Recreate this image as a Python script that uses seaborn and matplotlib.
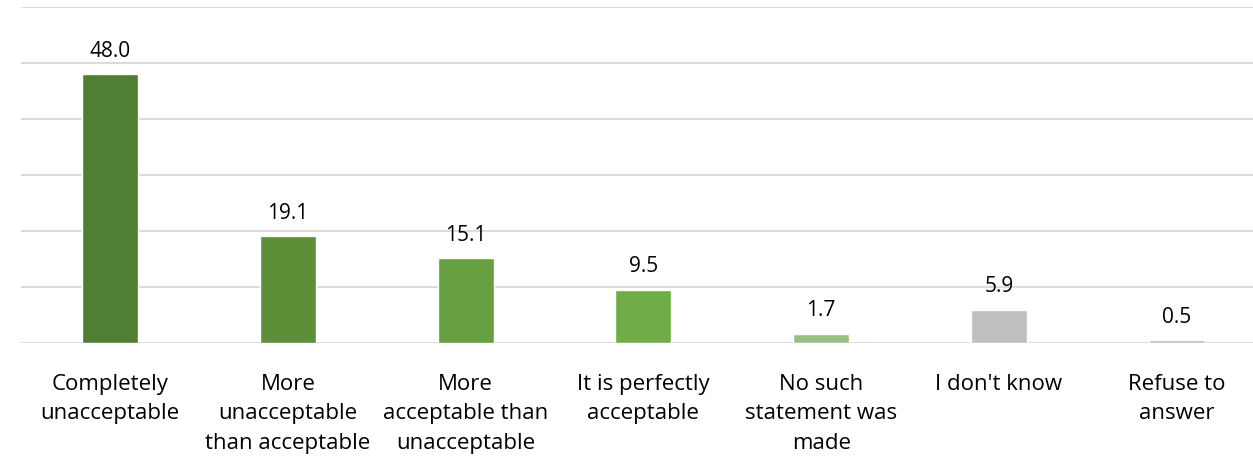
import matplotlib
matplotlib.use("Agg")
import matplotlib.pyplot as plt
import pandas as pd
import seaborn as sns

categories = [
    "Completely\nunacceptable",
    "More\nunacceptable\nthan acceptable",
    "More\nacceptable than\nunacceptable",
    "It is perfectly\nacceptable",
    "No such\nstatement was\nmade",
    "I don't know",
    "Refuse to\nanswer",
]
values = [48.0, 19.1, 15.1, 9.5, 1.7, 5.9, 0.5]
colors = ["#507E32", "#5C8F38", "#67A040", "#70AD47", "#98C083", "#BFBFBF", "#BFBFBF"]

df = pd.DataFrame({"category": categories, "value": values})

sns.set_style("white")
plt.rcParams["font.family"] = ["Open Sans", "DejaVu Sans"]

fig = plt.figure(figsize=(12.53, 4.58), dpi=100)
ax = fig.add_axes([0.017, 0.251, 0.993, 0.734])

sns.barplot(data=df, x="category", y="value", hue="category", palette=colors,
            legend=False, width=0.315, ax=ax, saturation=1)

ax.set_ylim(0, 60)
ax.set_yticks(range(0, 61, 10))
ax.yaxis.grid(True, color="#D9D9D9", linewidth=1.3)
ax.set_axisbelow(True)
ax.set_yticklabels([])
ax.tick_params(axis="y", length=0)
ax.tick_params(axis="x", length=0, labelsize=16, pad=22, colors="black")
for lbl in ax.get_xticklabels():
    lbl.set_linespacing(1.55)
ax.set_xlabel("")
ax.set_ylabel("")
for s in ax.spines.values():
    s.set_visible(False)

for i, v in enumerate(values):
    ax.annotate(f"{v:.1f}", (i, v), xytext=(0, 9), textcoords="offset points",
                ha="center", va="bottom", fontsize=15, color="black")

fig.savefig("out.png", dpi=100)
